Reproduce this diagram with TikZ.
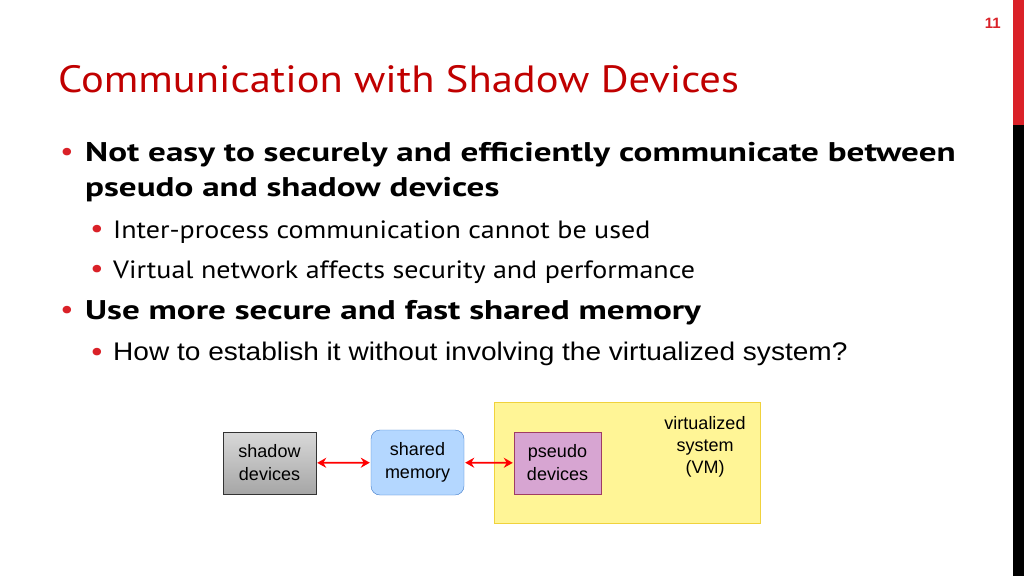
\documentclass[tikz,border=0pt]{standalone}
\usepackage{fontspec}
\usetikzlibrary{arrows.meta}
\setmainfont{PT Sans}[FakeStretch=1.12,BoldFeatures={FakeStretch=1.3}]
\newfontfamily\arialf{Liberation Sans}
\newfontfamily\arialw{Liberation Sans}[FakeStretch=1.1]
\definecolor{tred}{HTML}{C00000}
\definecolor{bred}{HTML}{DA2128}
\begin{document}
\begin{tikzpicture}[x=1pt,y=-1pt,
  txt/.style={anchor=base west,inner sep=0pt},
  bul/.style={anchor=base west,inner sep=0pt,text=bred},
  dbox/.style={draw,minimum width=93pt,minimum height=62pt,inner sep=0pt,align=center,font=\arialf\fontsize{18}{23}\selectfont},
  arr/.style={{Stealth[length=9pt,width=10pt]}-{Stealth[length=9pt,width=10pt]},red,line width=1.8pt,shorten <=1pt,shorten >=1pt}]
\useasboundingbox (0,0) rectangle (1024,576);
\fill[white] (0,0) rectangle (1024,576);
\fill[bred] (1013,0) rectangle (1024,125);
\fill[black] (1013,125) rectangle (1024,576);
\node[anchor=base east,inner sep=0pt,text=bred,font=\arialf\bfseries\fontsize{15}{17}\selectfont] (pg) at (1001,28) {11};
\node[txt,text=tred,font=\fontsize{38}{44}\selectfont] (title) at (58,92) {Communication with Shadow Devices};
\begin{scope}[font=\fontsize{27}{32}\selectfont]
\node[bul] (b1) at (60,160) {\textbullet};
\node[txt,font=\bfseries\fontsize{27}{32}\selectfont] (t1) at (85,161) {Not easy to securely and efficiently communicate between};
\node[txt,font=\bfseries\fontsize{27}{32}\selectfont] (t1b) at (85,196) {pseudo and shadow devices};
\node[bul] (b2) at (90,237) {\textbullet};
\node[txt,font=\fontsize{25}{30}\selectfont] (t2) at (113,238) {Inter-process communication cannot be used};
\node[bul] (b3) at (90,277) {\textbullet};
\node[txt,font=\fontsize{25}{30}\selectfont] (t3) at (113,278) {Virtual network affects security and performance};
\node[bul] (b4) at (60,318) {\textbullet};
\node[txt,font=\bfseries\fontsize{27}{32}\selectfont] (t4) at (85,319) {Use more secure and fast shared memory};
\node[bul] (b5) at (90,360) {\textbullet};
\node[txt,font=\arialw\fontsize{25.5}{30}\selectfont] (t5) at (113,360) {How to establish it without involving the virtualized system?};
\end{scope}
\node[draw={rgb,255:red,240;green,210;blue,60},fill={rgb,255:red,255;green,245;blue,150},minimum width=266pt,minimum height=121pt,inner sep=0pt] (vm) at (627,462.5) {};
\node[align=center,font=\arialf\fontsize{18}{22}\selectfont,inner sep=0pt] (vmt) at (705,447) {virtualized\\system\\(VM)};
\node[dbox,top color=gray!30,bottom color=gray!70,draw=black!80] (sh) at (269.5,463) {shadow\\devices};
\node[dbox,rounded corners=9pt,fill={rgb,255:red,180;green,215;blue,255},draw={rgb,255:red,60;green,120;blue,200},minimum height=65pt] (sm) at (417.5,462.5) {shared\\memory};
\node[dbox,fill={rgb,255:red,215;green,165;blue,210},draw={rgb,255:red,160;green,60;blue,100},minimum width=87pt] (ps) at (557.5,463) {pseudo\\devices};
\draw[arr] (sh) -- (sm);
\draw[arr] (sm) -- (ps);
\end{tikzpicture}
\end{document}
